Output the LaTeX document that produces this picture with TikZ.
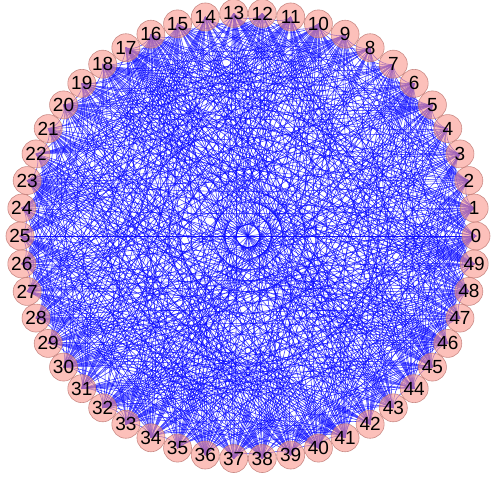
\documentclass[tikz,border=0pt]{standalone}
\usepackage{fontspec}
\setmainfont{Liberation Sans}
\definecolor{vfill}{RGB}{250,150,140}
\definecolor{vline}{RGB}{190,120,115}
\definecolor{ecol}{RGB}{10,10,255}
\begin{document}
\begin{tikzpicture}[x=228pt,y=223pt,
  edge/.style={draw=ecol, line width=0.55pt, draw opacity=0.8},
  vtx/.style={circle, minimum size=28pt, inner sep=0pt, fill=vfill, fill opacity=0.6,
    draw=vline, draw opacity=0.8, line width=0.6pt, text opacity=1,
    font=\fontsize{19}{19}\selectfont}]
\useasboundingbox (-248pt,-242pt) rectangle (244pt,236pt);
\foreach \i in {0,...,49}{ \coordinate (p\i) at (\i*7.2:1); }
\def\cc{0.4}
\pgfmathsetseed{11}
\foreach \i in {0,...,48}{
  \pgfmathtruncatemacro\jstart{\i+1}
  \foreach \j in {\jstart,...,49}{
    \pgfmathsetmacro\rr{rnd}
    \pgfmathtruncatemacro\d{\j-\i}
    \pgfmathtruncatemacro\m{min(\d,50-\d)}
    \ifdim\rr pt<0.55pt
      \ifnum\m=25
        \draw[edge] (p\i) -- (p\j);
      \else
        \pgfmathsetmacro\s{1-(4/3)*tan((180-7.2*\m)/4)*tan(3.6*\m)}
        \pgfmathsetmacro\ai{\i*7.2}
        \pgfmathsetmacro\aj{\j*7.2}
        \pgfmathsetmacro\xa{(1-\cc)*(2*cos(\ai)+cos(\aj))/3+\cc*\s*cos(\ai)}
        \pgfmathsetmacro\ya{(1-\cc)*(2*sin(\ai)+sin(\aj))/3+\cc*\s*sin(\ai)}
        \pgfmathsetmacro\xb{(1-\cc)*(cos(\ai)+2*cos(\aj))/3+\cc*\s*cos(\aj)}
        \pgfmathsetmacro\yb{(1-\cc)*(sin(\ai)+2*sin(\aj))/3+\cc*\s*sin(\aj)}
        \draw[edge] (p\i) .. controls (\xa,\ya) and (\xb,\yb) .. (p\j);
      \fi
    \fi
  }
}
\draw[edge] (p0) -- (p25);
\foreach \i in {0,...,49}{ \node[vtx] (v\i) at (p\i) {\i}; }
\end{tikzpicture}
\end{document}
